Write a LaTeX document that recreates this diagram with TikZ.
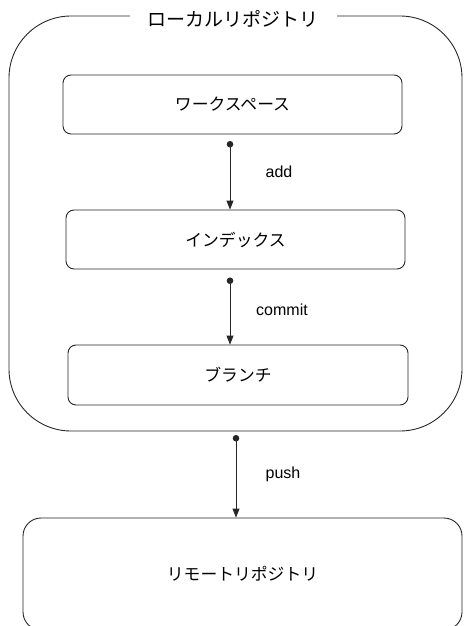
\documentclass[tikz,border=0pt]{standalone}
\usepackage{fontspec}
\setmainfont{Liberation Sans}
\newfontfamily\jp{Noto Sans CJK JP}
\usetikzlibrary{arrows.meta}
\tikzset{
  repo/.style={draw=black!85, line width=0.9pt, rounded corners=#1, inner sep=0pt},
  stage/.style={draw=black!85, line width=0.9pt, rounded corners=8pt, inner sep=0pt,
    font=\jp\fontsize{16.8}{18}\selectfont},
  flow/.style={draw=black!85, line width=0.9pt, {Circle[length=6.5pt]}-{Triangle[length=9pt,width=7pt]}},
  cmd/.style={font=\fontsize{16}{18}\selectfont}
}
\begin{document}
\begin{tikzpicture}[x=1pt,y=-1pt]
  \useasboundingbox (0,0) rectangle (463,626);
  % local repository container and its title
  \node[repo=62pt, minimum width=453pt, minimum height=415pt] (local) at (235.5,223.5) {};
  \node[fill=white, inner xsep=18pt, inner ysep=2pt, font=\jp\fontsize{19}{21}\selectfont] (title) at (233,19) {ローカルリポジトリ};
  % stages inside the local repository
  \node[stage, minimum width=339pt, minimum height=59pt] (work) at (232.5,104.5) {ワークスペース};
  \node[stage, minimum width=339pt, minimum height=59pt] (index) at (235.5,239.5) {インデックス};
  \node[stage, minimum width=340pt, minimum height=60pt] (branch) at (238,375) {ブランチ};
  % remote repository
  \node[stage, rounded corners=18pt, minimum width=439pt, minimum height=112pt] (remote) at (242.5,574) {リモートリポジトリ};
  % transitions between the stages
  \coordinate (a1) at (230,141);
  \coordinate (a2) at (230,277.5);
  \coordinate (a3) at (236,435);
  \draw[flow] (a1) -- (a1 |- index.north);
  \draw[flow] (a2) -- (a2 |- branch.north);
  \draw[flow] (a3) -- (a3 |- remote.north);
  \node[cmd] (add) at (279,172) {add};
  \node[cmd] (commit) at (282,310) {commit};
  \node[cmd] (push) at (283,474) {push};
\end{tikzpicture}
\end{document}
